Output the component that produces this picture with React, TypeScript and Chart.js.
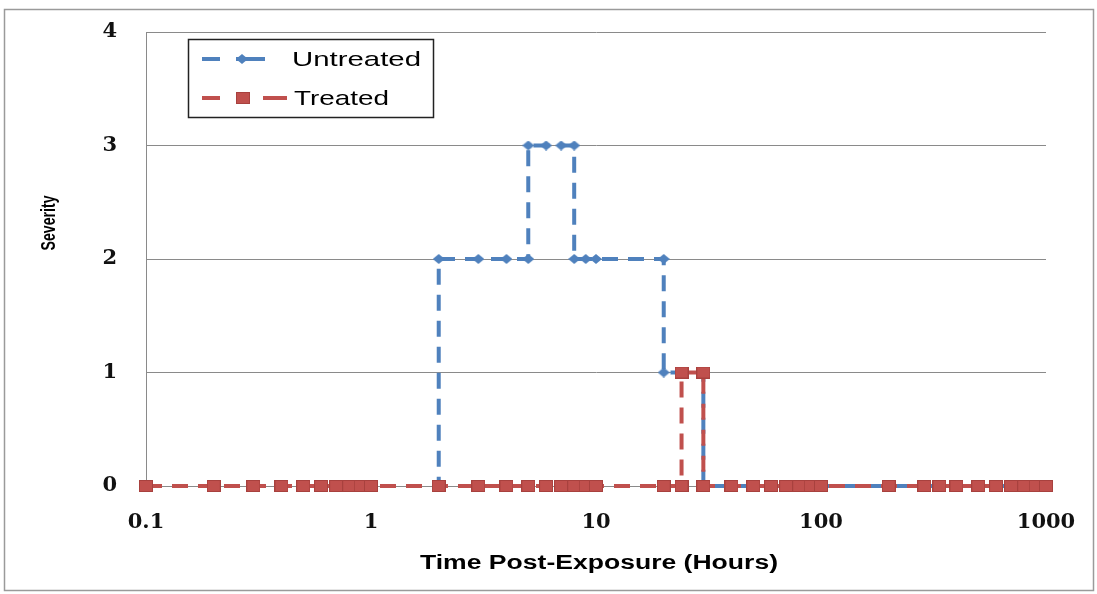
import React, { useEffect, useRef } from "react";
import { Chart, registerables } from "chart.js";

Chart.register(...registerables);

// ---- data ----
const xTickValues = [0.1, 1, 10, 100, 1000];
const xTickLabels = ["0.1", "1", "10", "100", "1000"];
const yTickValues = [0, 1, 2, 3, 4];
const yTickLabels = ["0", "1", "2", "3", "4"];

const seriesNames = ["Untreated", "Treated"];

const untreatedHours = [
  0.1, 0.2, 0.3, 0.4, 0.5, 0.6, 0.7, 0.8, 0.9, 1,
  2, 2, 3, 4, 5, 5, 6, 7, 8, 8, 9, 10, 20, 20, 24, 30, 30,
  40, 50, 60, 70, 80, 90, 100, 200, 288, 336, 400, 500, 600, 700, 800, 900, 1000,
];
const untreatedSeverity = [
  0, 0, 0, 0, 0, 0, 0, 0, 0, 0,
  0, 2, 2, 2, 2, 3, 3, 3, 3, 2, 2, 2, 2, 1, 1, 1, 0,
  0, 0, 0, 0, 0, 0, 0, 0, 0, 0, 0, 0, 0, 0, 0, 0, 0,
];

const treatedHours = [
  0.1, 0.2, 0.3, 0.4, 0.5, 0.6, 0.7, 0.8, 0.9, 1,
  2, 3, 4, 5, 6, 7, 8, 9, 10, 20, 24, 24, 30, 30,
  40, 50, 60, 70, 80, 90, 100, 200, 288, 336, 400, 500, 600, 700, 800, 900, 1000,
];
const treatedSeverity = [
  0, 0, 0, 0, 0, 0, 0, 0, 0, 0,
  0, 0, 0, 0, 0, 0, 0, 0, 0, 0, 0, 1, 1, 0,
  0, 0, 0, 0, 0, 0, 0, 0, 0, 0, 0, 0, 0, 0, 0, 0, 0,
];

const xTitle = "Time Post-Exposure (Hours)";
const yTitle = "Severity";

// ---- styles ----
const BLUE = "#4F81BD";
const RED = "#C0504D";
const GRID = "#8a8a8a";

function makeSquare(): HTMLCanvasElement {
  const c = document.createElement("canvas");
  c.width = 14;
  c.height = 12;
  const g = c.getContext("2d")!;
  g.fillStyle = RED;
  g.fillRect(0, 0, 14, 12);
  g.strokeStyle = "#A8413E";
  g.lineWidth = 1;
  g.strokeRect(0.5, 0.5, 13, 11);
  return c;
}

function makeDiamond(): HTMLCanvasElement {
  const c = document.createElement("canvas");
  c.width = 12;
  c.height = 10;
  const g = c.getContext("2d")!;
  g.fillStyle = BLUE;
  g.beginPath();
  g.moveTo(6, 0);
  g.lineTo(12, 5);
  g.lineTo(6, 10);
  g.lineTo(0, 5);
  g.closePath();
  g.fill();
  return c;
}

function drawStretched(
  ctx: CanvasRenderingContext2D,
  text: string,
  font: string,
  x: number,
  y: number,
  targetWidth: number,
  align: "left" | "center",
  rotate = false
) {
  ctx.save();
  ctx.font = font;
  ctx.fillStyle = "#000";
  ctx.textBaseline = "middle";
  const w = ctx.measureText(text).width;
  const s = targetWidth / w;
  ctx.translate(x, y);
  if (rotate) {
    ctx.scale(1.35, s);
    ctx.rotate(-Math.PI / 2);
    ctx.textAlign = "center";
    ctx.fillText(text, 0, 0);
  } else {
    ctx.scale(s, 1);
    ctx.textAlign = align;
    ctx.fillText(text, 0, 0);
  }
  ctx.restore();
}

export default function App() {
  const ref = useRef<HTMLCanvasElement | null>(null);

  useEffect(() => {
    if (!ref.current) return;
    const square = makeSquare();
    const diamond = makeDiamond();

    const decor = {
      id: "decor",
      beforeDraw(chart: any) {
        const ctx = chart.ctx as CanvasRenderingContext2D;
        ctx.save();
        ctx.fillStyle = "#ffffff";
        ctx.fillRect(0, 0, chart.width, chart.height);
        ctx.restore();
      },
      afterDraw(chart: any) {
        const ctx = chart.ctx as CanvasRenderingContext2D;
        // outer border
        ctx.save();
        ctx.strokeStyle = "#9a9a9a";
        ctx.lineWidth = 1.5;
        ctx.strokeRect(4.5, 9.5, 1089, 581);
        ctx.restore();

        // axis titles
        drawStretched(ctx, xTitle, "bold 20px 'Liberation Sans'", 599, 563, 358, "center");
        drawStretched(ctx, yTitle, "bold 15px 'Liberation Sans'", 49, 223, 55, "center", true);

        // legend box
        ctx.save();
        ctx.fillStyle = "#ffffff";
        ctx.fillRect(188, 39, 245, 78);
        ctx.strokeStyle = "#222";
        ctx.lineWidth = 1.5;
        ctx.strokeRect(188.5, 39.5, 245, 78);

        ctx.lineWidth = 4;
        ctx.lineCap = "butt";
        // untreated sample
        ctx.strokeStyle = BLUE;
        ctx.beginPath();
        ctx.moveTo(202, 59);
        ctx.lineTo(220, 59);
        ctx.moveTo(236, 59);
        ctx.lineTo(265, 59);
        ctx.stroke();
        ctx.drawImage(diamond, 242 - 6, 59 - 5);
        // treated sample
        ctx.strokeStyle = RED;
        ctx.beginPath();
        ctx.moveTo(202, 98);
        ctx.lineTo(220, 98);
        ctx.moveTo(263, 98);
        ctx.lineTo(287, 98);
        ctx.stroke();
        ctx.drawImage(square, 243 - 7, 98 - 6);
        ctx.restore();

        drawStretched(ctx, seriesNames[0], "21px 'Liberation Sans'", 292, 60, 129, "left");
        drawStretched(ctx, seriesNames[1], "21px 'Liberation Sans'", 294, 99, 95, "left");
      },
    };

    const chart = new Chart(ref.current, {
      type: "scatter",
      data: {
        datasets: [
          {
            label: seriesNames[0],
            data: untreatedHours.map((h, i) => ({ x: h, y: untreatedSeverity[i] })),
            showLine: true,
            borderColor: BLUE,
            backgroundColor: BLUE,
            borderWidth: 4,
            borderDash: [16, 10],
            pointStyle: diamond as any,
            pointRadius: 6,
            clip: false as any,
            order: 2,
            tension: 0,
          },
          {
            label: seriesNames[1],
            data: treatedHours.map((h, i) => ({ x: h, y: treatedSeverity[i] })),
            showLine: true,
            borderColor: RED,
            backgroundColor: RED,
            borderWidth: 4,
            borderDash: [16, 10],
            pointStyle: square as any,
            pointRadius: 6,
            clip: false as any,
            order: 1,
            tension: 0,
          },
        ],
      },
      options: {
        animation: false,
        responsive: false,
        devicePixelRatio: 1,
        events: [],
        layout: { padding: { left: 0, top: 32, right: 51, bottom: 0 } },
        plugins: {
          legend: { display: false },
          tooltip: { enabled: false },
          title: { display: false },
        },
        scales: {
          x: {
            type: "logarithmic",
            min: 0.1,
            max: 1000,
            position: "bottom",
            grid: { display: false, drawTicks: false },
            border: { display: true, color: GRID, width: 1 },
            afterBuildTicks: (scale: any) => {
              scale.ticks = xTickValues.map((v) => ({ value: v }));
            },
            afterFit: (scale: any) => {
              scale.height = 108;
              scale.paddingLeft = 0;
              scale.paddingRight = 0;
            },
            ticks: {
              autoSkip: false,
              maxRotation: 0,
              padding: 24,
              color: "#111",
              font: { family: "'DejaVu Serif'", weight: "bold", size: 21 },
              callback: (_v: any, i: number) => xTickLabels[i],
            },
          },
          y: {
            type: "linear",
            min: 0,
            max: 4,
            grid: { color: GRID, lineWidth: 1, drawTicks: false },
            border: { display: true, color: GRID, width: 1 },
            afterBuildTicks: (scale: any) => {
              scale.ticks = yTickValues.map((v) => ({ value: v }));
            },
            afterFit: (scale: any) => {
              scale.width = 146;
              scale.paddingTop = 0;
              scale.paddingBottom = 0;
            },
            ticks: {
              padding: 29,
              color: "#111",
              font: { family: "'DejaVu Serif'", weight: "bold", size: 21 },
              callback: (_v: any, i: number) => yTickLabels[i],
            },
          },
        },
      },
      plugins: [decor],
    } as any);

    return () => chart.destroy();
  }, []);

  return (
    <div style={{ position: "absolute", left: 0, top: 0, width: 1097, height: 594 }}>
      <canvas ref={ref} width={1097} height={594} style={{ width: 1097, height: 594, display: "block" }} />
    </div>
  );
}
